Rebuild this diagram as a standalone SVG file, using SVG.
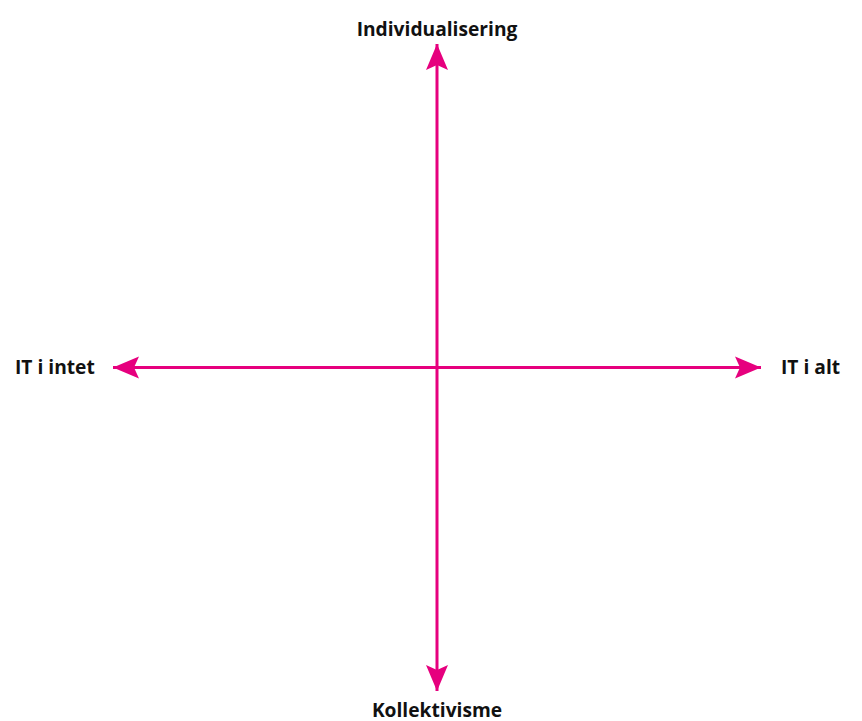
<svg xmlns="http://www.w3.org/2000/svg" width="862" height="721" viewBox="0 0 862 721">
<style>
.axis{stroke:#E6007E;stroke-width:3;fill:none}
.lbl{font-family:"Open Sans","Liberation Sans",sans-serif;font-weight:bold;font-size:19.2px;fill:#111}
</style>
<defs>
<marker id="ah" markerUnits="userSpaceOnUse" viewBox="-27 -12 28 24" refX="0" refY="0" markerWidth="28" markerHeight="24" orient="auto-start-reverse">
<path d="M0,0 L-26,-11 L-21,0 L-26,11 Z" fill="#E6007E"/>
</marker>
</defs>
<rect width="862" height="721" fill="#fff"/>
<g id="connectors">
<line class="axis" x1="437" y1="44" x2="437" y2="691" marker-start="url(#ah)" marker-end="url(#ah)"/>
<line class="axis" x1="113" y1="367.5" x2="761" y2="367.5" marker-start="url(#ah)" marker-end="url(#ah)"/>
</g>
<g id="top"><text class="lbl" x="437" y="36" text-anchor="middle">Individualisering</text></g>
<g id="left"><text class="lbl" x="15" y="373.5">IT i intet</text></g>
<g id="right"><text class="lbl" x="781" y="373.5">IT i alt</text></g>
<g id="bottom"><text class="lbl" x="437" y="717" text-anchor="middle">Kollektivisme</text></g>
</svg>
